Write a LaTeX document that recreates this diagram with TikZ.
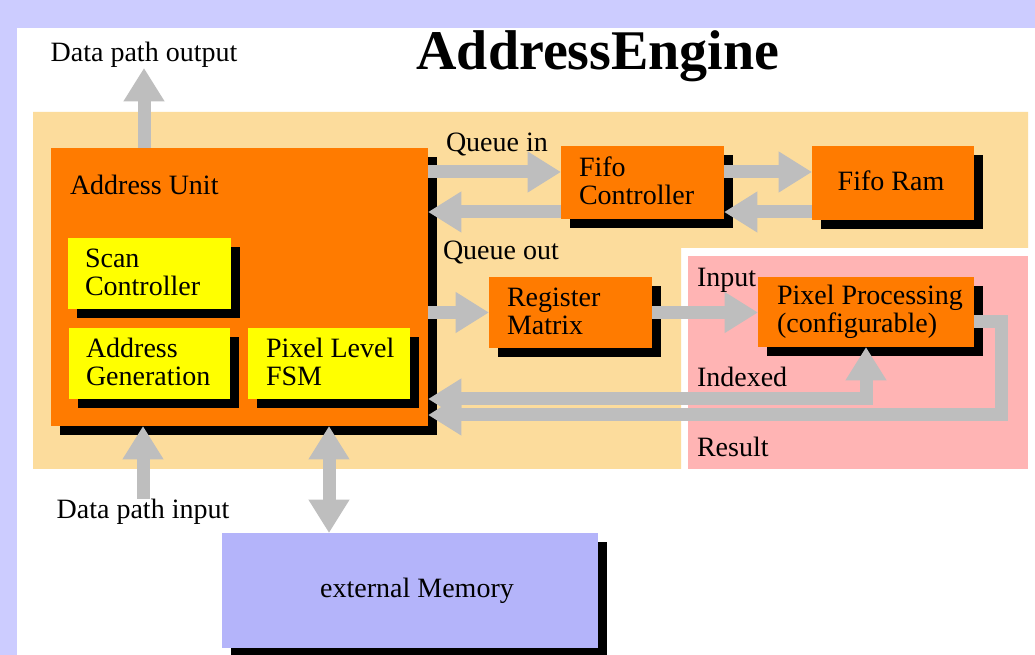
\documentclass[tikz,border=0pt]{standalone}
\usepackage{fontspec}
\setmainfont{Liberation Serif}
\usetikzlibrary{arrows.meta,shadows,fit}

\definecolor{frame}{RGB}{204,204,255}
\definecolor{peach}{RGB}{252,220,156}
\definecolor{rose}{RGB}{255,180,180}
\definecolor{unitorange}{RGB}{255,123,0}
\definecolor{subyellow}{RGB}{255,255,0}
\definecolor{memblue}{RGB}{180,180,250}
\definecolor{flowgray}{RGB}{190,190,190}

\tikzset{
  block/.style={rectangle, inner sep=0pt, outer sep=0pt, draw=none,
    drop shadow={shadow xshift=6.75pt, shadow yshift=-6.75pt, fill=black, opacity=1}},
  unit/.style={block, fill=unitorange},
  sub/.style={block, fill=subyellow},
  mem/.style={block, fill=memblue},
  txt/.style={inner sep=0pt, outer sep=0pt, align=left,
    font=\fontsize{21}{21}\selectfont},
  head/.tip={Triangle[width=29pt,length=25pt]},
  flow/.style={draw=flowgray, line width=9.75pt, line join=miter, -{head}},
  flowboth/.style={draw=flowgray, line width=9.75pt, line join=miter, {head}-{head}},
}

\begin{document}
\begin{tikzpicture}[x=0.75pt,y=-0.75pt]
\useasboundingbox (0,0) rectangle (1035,655);

% page frame and grouping areas
\fill[frame] (0,0) rectangle (1035,655);
\fill[white] (17,28) rectangle (1035,655);
\fill[peach] (33,112) -- (1028,112) -- (1028,248) -- (681,248)
  -- (681,469) -- (33,469) -- cycle;
\fill[rose] (688,256) rectangle (1028,469);

% title
\node[inner sep=0pt, font=\fontsize{42}{42}\selectfont\bfseries, anchor=base]
  (title) at (598,70) {AddressEngine};

% blocks
\node[unit, fit={(51,148)(428,426)}] (au) {};
\node[sub, fit={(68,238)(231,309)}] (scan) {};
\node[sub, fit={(69,328)(230,399)}] (agen) {};
\node[sub, fit={(248,328)(410,399)}] (fsm) {};
\node[unit, fit={(561,146)(724,219)}] (fc) {};
\node[unit, fit={(812,146)(974,220)}] (fr) {};
\node[unit, fit={(489,277)(652,348)}] (rm) {};
\node[unit, fit={(758,277)(974,347)}] (pp) {};
\node[mem, fit={(222,533)(598,648)}] (mem) {};

% block texts (two-line texts are placed by the baseline of their last line)
\node[txt, anchor=base west] (au-t) at (70,195) {Address Unit};
\node[txt, anchor=base west] (scan-t) at (85,296) {Scan\\Controller};
\node[txt, anchor=base west] (agen-t) at (86,386) {Address\\Generation};
\node[txt, anchor=base west] (fsm-t) at (266,386) {Pixel Level\\FSM};
\node[txt, anchor=base west] (fc-t) at (579,205) {Fifo\\Controller};
\node[txt, anchor=base] (fr-t) at (891,191) {Fifo Ram};
\node[txt, anchor=base west] (rm-t) at (507,335) {Register\\Matrix};
\node[txt, anchor=base west] (pp-t) at (777,333) {Pixel Processing\\(configurable)};
\node[txt, anchor=base] (mem-t) at (417,597) {external Memory};

% connector labels
\node[txt, anchor=base] (dpo) at (144,62) {Data path output};
\node[txt, anchor=base] (dpi) at (143,518) {Data path input};
\node[txt, anchor=base west] (qin) at (446,152) {Queue in};
\node[txt, anchor=base west] (qout) at (443,260) {Queue out};
\node[txt, anchor=base west] (inp) at (697,287) {Input};
\node[txt, anchor=base west] (idx) at (697,387) {Indexed};
\node[txt, anchor=base west] (res) at (697,457) {Result};

% data flow
\draw[flow] (au.north -| dpo.south) -- (dpo.south);
\draw[flow] (dpi.north) -- (au.south -| dpi.north);
\draw[flowboth] (au.south -| fsm.south) -- (mem.north -| fsm.south);
\draw[flow] (au.east |- 0,172) -- (fc.west |- 0,172);
\draw[flow] (fc.west |- 0,212) -- (au.east |- 0,212);
\draw[flow] (fc.east |- 0,172) -- (fr.west |- 0,172);
\draw[flow] (fr.west |- 0,212) -- (fc.east |- 0,212);
\draw[flow] (au.east |- rm.west) -- (rm.west);
\draw[flow] (rm.east) -- (pp.west |- rm.east);
\draw[flow] (pp.east |- 0,322) -| (1001,415) -- (au.east |- 0,415);
\draw[flowboth] (au.east |- 0,399) -| (pp.south);
\end{tikzpicture}
\end{document}
